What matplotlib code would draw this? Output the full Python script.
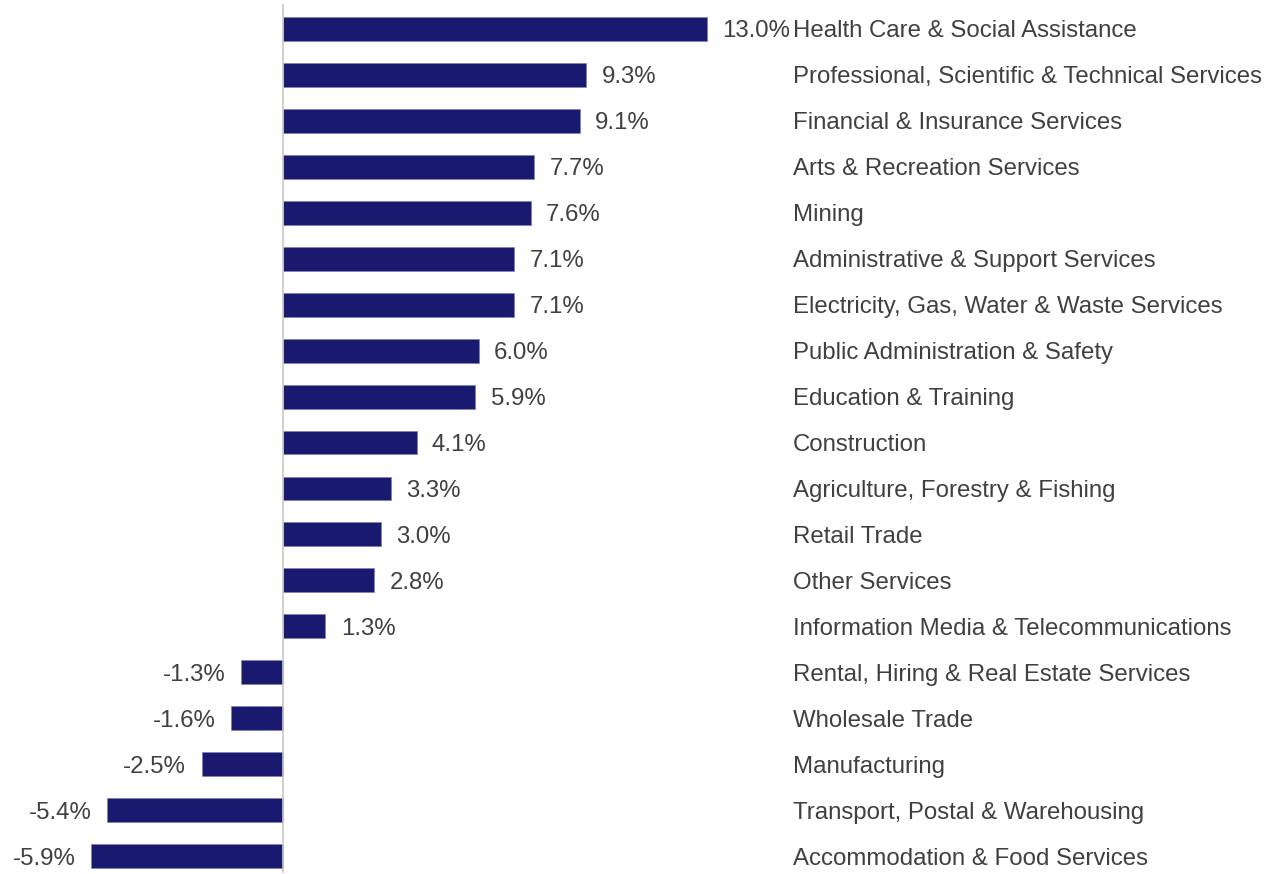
import matplotlib.pyplot as plt

plt.rcParams['font.family'] = ['Liberation Sans', 'DejaVu Sans']

industries = [
    'Health Care & Social Assistance',
    'Professional, Scientific & Technical Services',
    'Financial & Insurance Services',
    'Arts & Recreation Services',
    'Mining',
    'Administrative & Support Services',
    'Electricity, Gas, Water & Waste Services',
    'Public Administration & Safety',
    'Education & Training',
    'Construction',
    'Agriculture, Forestry & Fishing',
    'Retail Trade',
    'Other Services',
    'Information Media & Telecommunications',
    'Rental, Hiring & Real Estate Services',
    'Wholesale Trade',
    'Manufacturing',
    'Transport, Postal & Warehousing',
    'Accommodation & Food Services',
]
growth = [13.0, 9.3, 9.1, 7.7, 7.6, 7.1, 7.1, 6.0, 5.9, 4.1, 3.3, 3.0, 2.8, 1.3,
          -1.3, -1.6, -2.5, -5.4, -5.9]

bar_color = '#191970'
text_color = '#404040'
fs = 17.3

fig = plt.figure(figsize=(12.82, 8.74), dpi=100)
ax = fig.add_axes([0, 0, 1, 1])

ypos = list(range(len(industries)))
ax.barh(ypos, growth, height=0.52, color=bar_color, edgecolor='#8080b0', linewidth=0.5, zorder=2)
ax.axvline(0, ymin=0.002, ymax=0.994, color='#c8c8c8', linewidth=1.2, zorder=3)

for y, v, name in zip(ypos, growth, industries):
    if v >= 0:
        ax.annotate(f'{v:.1f}%', (v, y), xytext=(11, 0), textcoords='offset points',
                    ha='left', va='center_baseline', fontsize=fs, color=text_color)
    else:
        ax.annotate(f'{v:.1f}%', (v, y), xytext=(-11, 0), textcoords='offset points',
                    ha='right', va='center_baseline', fontsize=fs, color=text_color)
    ax.text(15.64, y, name, ha='left', va='center_baseline', fontsize=fs, color=text_color)

ax.set_xlim(-283 / 32.6, (1282 - 283) / 32.6)
ax.set_ylim(18.39, -0.631)
ax.axis('off')

fig.savefig('out.png', dpi=100)
